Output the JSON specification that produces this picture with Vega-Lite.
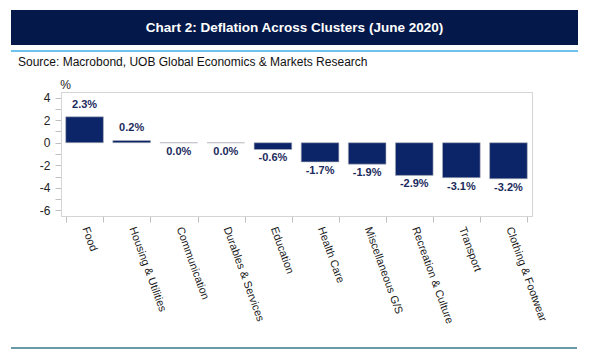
{
  "$schema": "https://vega.github.io/schema/vega-lite/v6.json",
  "padding": {"left": 11, "top": 10, "right": 5, "bottom": 5},
  "background": "white",
  "config": {"font": "Liberation Sans", "view": {"stroke": null}},
  "datasets": {
    "cpi": [
      {"category": "Food", "value": 2.3, "label": "2.3%"},
      {"category": "Housing & Utilities", "value": 0.2, "label": "0.2%"},
      {"category": "Communication", "value": 0.0, "label": "0.0%"},
      {"category": "Durables & Services", "value": 0.0, "label": "0.0%"},
      {"category": "Education", "value": -0.6, "label": "-0.6%"},
      {"category": "Health Care", "value": -1.7, "label": "-1.7%"},
      {"category": "Miscellaneous G/S", "value": -1.9, "label": "-1.9%"},
      {"category": "Recreation & Culture", "value": -2.9, "label": "-2.9%"},
      {"category": "Transport", "value": -3.1, "label": "-3.1%"},
      {"category": "Clothing & Footwear", "value": -3.2, "label": "-3.2%"}
    ]
  },
  "spacing": 16,
  "vconcat": [
    {
      "spacing": 9,
      "vconcat": [
        {
          "spacing": 0,
          "title": {
            "text": "Source: Macrobond, UOB Global Economics & Markets Research",
            "orient": "bottom",
            "anchor": "start",
            "frame": "group",
            "fontSize": 12,
            "fontWeight": "normal",
            "color": "#111111",
            "offset": 1,
            "dx": 7
          },
          "vconcat": [
            {
              "width": 567,
              "height": 35,
              "view": {"fill": "#04194a", "stroke": null},
              "data": {"values": [{"t": "Chart 2: Deflation Across Clusters (June 2020)"}]},
              "mark": {"type": "text", "color": "white", "fontWeight": "bold", "fontSize": 13.5},
              "encoding": {"text": {"field": "t", "type": "nominal"}}
            },
            {
              "width": 567,
              "height": 2,
              "view": {"fill": "#6fc2ec", "stroke": null},
              "data": {"values": [{"t": ""}]},
              "mark": {"type": "text"},
              "encoding": {"text": {"field": "t", "type": "nominal"}}
            }
          ]
        },
        {
          "spacing": 0,
          "hconcat": [
            {
              "width": 27,
              "height": 1,
              "view": {"fill": "white", "stroke": null},
              "data": {"values": [{"t": ""}]},
              "mark": {"type": "text"},
              "encoding": {"text": {"field": "t", "type": "nominal"}}
            },
            {
              "width": 471,
              "height": 124,
              "view": {"stroke": "#d4d4d4", "strokeWidth": 1},
              "data": {"name": "cpi"},
              "encoding": {
                "x": {
                  "field": "category",
                  "type": "nominal",
                  "sort": null,
                  "scale": {"paddingInner": 0.2, "paddingOuter": 0.1},
                  "axis": {
                    "title": null,
                    "labelAngle": 70,
                    "labelAlign": "left",
                    "labelBaseline": "middle",
                    "labelFontSize": 11,
                    "labelColor": "#1a1a1a",
                    "labelPadding": 5,
                    "labelLimit": 200,
                    "tickBand": "extent",
                    "tickSize": 6,
                    "tickColor": "#c0c0c0",
                    "domainColor": "#d4d4d4"
                  }
                },
                "y": {
                  "field": "value",
                  "type": "quantitative",
                  "scale": {"domain": [-6.5, 4.5], "nice": false, "zero": false},
                  "axis": {
                    "title": "%",
                    "titleAngle": 0,
                    "titleX": 4,
                    "titleY": -8,
                    "titleAlign": "center",
                    "titleBaseline": "middle",
                    "titleFontWeight": "normal",
                    "titleFontSize": 12,
                    "titleColor": "#222222",
                    "values": [-6, -5, -4, -3, -2, -1, 0, 1, 2, 3, 4],
                    "labelExpr": "datum.value % 2 == 0 ? '' + datum.value : ''",
                    "grid": false,
                    "tickSize": 6,
                    "tickColor": "#c0c0c0",
                    "domainColor": "#d4d4d4",
                    "labelFontSize": 12,
                    "labelColor": "#222222",
                    "labelPadding": 5
                  }
                }
              },
              "layer": [
                {"mark": {"type": "bar", "color": "#0c2468", "stroke": "#b0b4bc", "strokeWidth": 0.6}},
                {
                  "transform": [{"filter": "datum.value > 0"}],
                  "mark": {"type": "text", "dy": -12, "fontWeight": "bold", "fontSize": 11, "color": "#1b2a5c"},
                  "encoding": {"text": {"field": "label", "type": "nominal"}}
                },
                {
                  "transform": [{"filter": "datum.value <= 0"}],
                  "mark": {"type": "text", "dy": 9, "fontWeight": "bold", "fontSize": 11, "color": "#1b2a5c"},
                  "encoding": {"text": {"field": "label", "type": "nominal"}}
                }
              ]
            }
          ]
        }
      ]
    },
    {
      "width": 566,
      "height": 2,
      "view": {"fill": "#6a9aa8", "stroke": null},
      "data": {"values": [{"t": ""}]},
      "mark": {"type": "text"},
      "encoding": {"text": {"field": "t", "type": "nominal"}}
    }
  ]
}
